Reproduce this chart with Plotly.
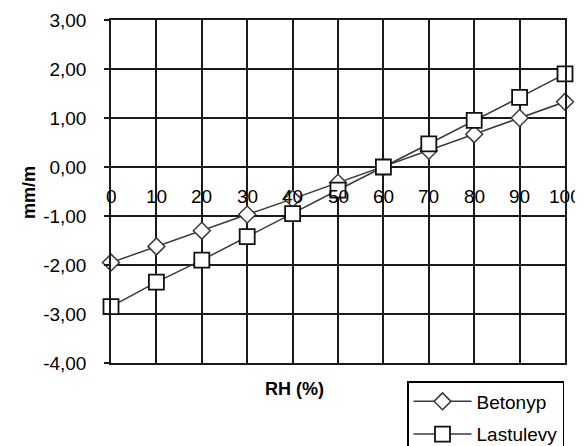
import plotly.graph_objects as go

rh = [0, 10, 20, 30, 40, 50, 60, 70, 80, 90, 100]
betonyp = [-1.95, -1.62, -1.30, -0.97, -0.65, -0.32, 0.00, 0.33, 0.67, 1.00, 1.33]
lastulevy = [-2.85, -2.35, -1.90, -1.42, -0.95, -0.47, 0.00, 0.47, 0.95, 1.42, 1.90]
y_ticks = [3, 2, 1, 0, -1, -2, -3, -4]
y_ticktext = ["3,00", "2,00", "1,00", "0,00", "-1,00", "-2,00", "-3,00", "-4,00"]
x_ticks = [0, 10, 20, 30, 40, 50, 60, 70, 80, 90, 100]
x_ticktext = ["0", "10", "20", "30", "40", "50", "60", "70", "80", "90", "100"]

FONT = "Liberation Sans, Arial, sans-serif"
OFF = 8  # default page body margin
W, H = 583 - OFF, 446 - OFF
L, R, T, B = 111 - OFF, 18, 20 - OFF, 83
PW, PH = W - L - R, H - T - B

def px(xp):
    return (xp - OFF - L) / PW

def py(yp):
    return (H - B - (yp - OFF)) / PH

fig = go.Figure()
fig.add_trace(go.Scatter(
    x=rh, y=betonyp, name="Betonyp", mode="lines+markers",
    line=dict(color="#3a3a3a", width=1.5),
    marker=dict(symbol="diamond", size=13, color="white", line=dict(color="#3a3a3a", width=1.5)),
    cliponaxis=False, legendgroup="a"))
fig.add_trace(go.Scatter(
    x=rh, y=lastulevy, name="Lastulevy", mode="lines+markers",
    line=dict(color="#3a3a3a", width=1.5),
    marker=dict(symbol="square", size=15, color="white", line=dict(color="#111", width=1.8)),
    cliponaxis=False, legendgroup="b"))

for xv, tt in zip(x_ticks, x_ticktext):
    fig.add_annotation(x=xv, y=-0.6, xref="x", yref="y", text=tt, showarrow=False,
                       font=dict(family=FONT, size=19, color="black"))

fig.update_layout(
    width=W, height=H,
    margin=dict(l=L, r=R, t=T, b=B, autoexpand=False),
    paper_bgcolor="white", plot_bgcolor="white",
    font=dict(family=FONT, size=18, color="black"),
    showlegend=True,
    legend=dict(x=px(407), y=py(381), xanchor="left", yanchor="top",
                bordercolor="black", borderwidth=1.5, bgcolor="white",
                font=dict(family=FONT, size=19, color="black"),
                tracegroupgap=5, traceorder="grouped", itemwidth=58),
    xaxis=dict(range=[0, 100], tickvals=x_ticks, showticklabels=False,
               showgrid=True, gridcolor="#1a1a1a", gridwidth=1.5,
               showline=True, linecolor="#1a1a1a", linewidth=1.5, mirror=True,
               zeroline=False, ticks="", automargin=False),
    yaxis=dict(range=[-4, 3], tickvals=y_ticks, ticktext=y_ticktext,
               showgrid=True, gridcolor="#1a1a1a", gridwidth=1.5,
               showline=True, linecolor="#1a1a1a", linewidth=1.5, mirror=True,
               zeroline=False, ticks="outside", ticklen=5, tickcolor="#1a1a1a",
               tickwidth=1.5, tickfont=dict(size=19), ticklabelstandoff=14,
               automargin=False),
)
fig.add_annotation(x=px(294), y=py(401), xref="paper", yref="paper", text="<b>RH (%)</b>",
                   showarrow=False, font=dict(family=FONT, size=18, color="black"))
fig.add_annotation(x=px(17), y=py(193), xref="paper", yref="paper",
                   text="<b>mm/m</b>", textangle=-90, showarrow=False,
                   font=dict(family=FONT, size=18, color="black"))

fig.write_html("out.html")
